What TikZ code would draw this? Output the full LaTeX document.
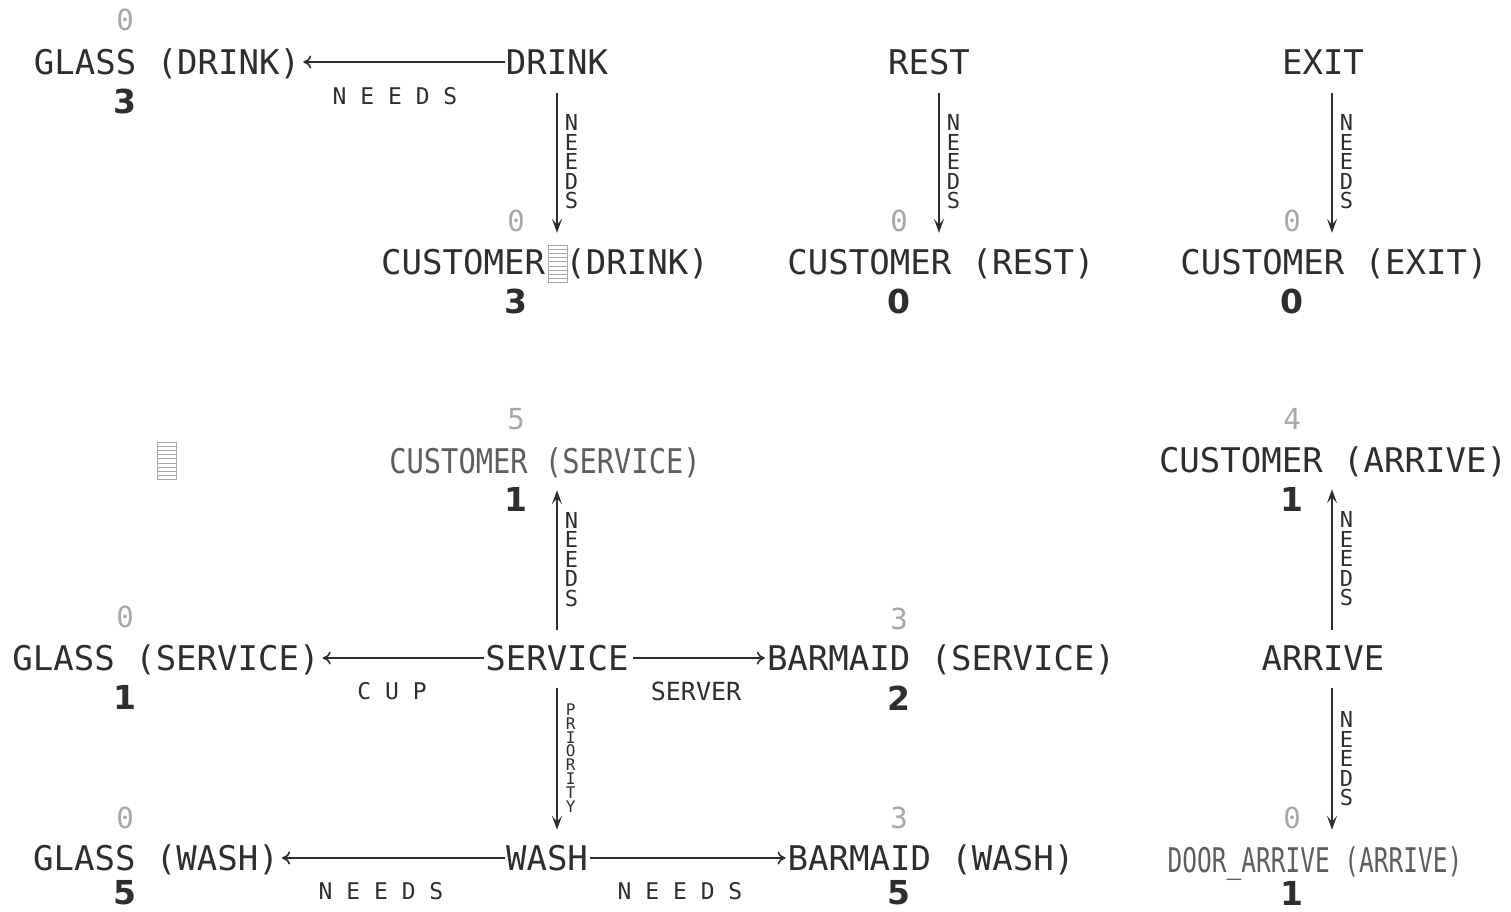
\documentclass[tikz,border=0pt]{standalone}
\usepackage{fontspec}
\setmainfont{DejaVu Sans}
\newfontfamily\monof{DejaVu Sans Mono}
\usetikzlibrary{arrows.meta}
\definecolor{ink}{HTML}{2E2E2E}
\definecolor{faint}{HTML}{A8A8A8}
\definecolor{thinink}{HTML}{5E5E5E}
\newcommand{\narrowtext}[2]{\scalebox{#1}[1]{#2}}
\begin{document}
\begin{tikzpicture}[x=1pt,y=-1pt,
  nm/.style={font=\monof\fontsize{34}{34}\selectfont, text=ink, inner sep=0pt, text height=24pt, text depth=0pt, anchor=center},
  lightnm/.style={nm, text=thinink},
  topnum/.style={font=\monof\fontsize{29}{29}\selectfont, text=faint, inner sep=0pt},
  botnum/.style={font=\bfseries\fontsize{33}{33}\selectfont, text=ink, inner sep=0pt},
  hlab/.style={font=\monof\fontsize{23}{23}\selectfont, text=ink, inner sep=0pt},
  vlab/.style={font=\monof\fontsize{22}{19.5}\selectfont, text=ink, inner sep=0pt, align=center},
  plab/.style={font=\monof\fontsize{16}{13.8}\selectfont, text=ink, inner sep=0pt, align=center},
  harr/.style={draw=ink, line width=1.6pt, -{To[length=8pt,width=13pt]}, shorten >=3pt, shorten <=1pt},
  varr/.style={draw=ink, line width=1.6pt, -{Stealth[length=14pt,width=10pt,inset=6pt]}},
  cursorbox/.style={minimum width=19pt, minimum height=37pt, inner sep=0pt, draw=faint, line width=1pt,
    path picture={\foreach \i in {1,...,8}{\draw[faint, line width=1pt] ([yshift=-\i*4.1pt]path picture bounding box.north west) -- ([yshift=-\i*4.1pt]path picture bounding box.north east);}}}
]
\useasboundingbox[fill=white] (0,0) rectangle (1511,911);

% ---- row 1 ----
\node[nm] (glassd) at (167,62) {GLASS (DRINK)};
\node[nm] (drink) at (557,62) {DRINK};
\node[nm] (rest) at (929,62) {REST};
\node[nm] (exit) at (1323,62) {EXIT};
\node[topnum] (n_glassd_t) at (125,20) {0};
\node[botnum] (n_glassd_b) at (125,101) {3};
\node[hlab] (lab_dg) at (395,96) {N E E D S};

\node[nm] (custd) at (545,262) {CUSTOMER\phantom{ }(DRINK)};
\node[cursorbox] (cur1) at (558,264) {};
\node[nm] (custr) at (941,262) {CUSTOMER (REST)};
\node[nm] (custe) at (1334,262) {CUSTOMER (EXIT)};
\node[topnum] (n_custd_t) at (516,221) {0};
\node[botnum] (n_custd_b) at (516,301) {3};
\node[topnum] (n_custr_t) at (899,221) {0};
\node[botnum] (n_custr_b) at (899,301) {0};
\node[topnum] (n_custe_t) at (1292,221) {0};
\node[botnum] (n_custe_b) at (1292,301) {0};

\draw[harr] (drink.west) -- (glassd.east);
\draw[varr, shorten <=19pt, shorten >=17pt] (drink.south) -- node[vlab, right=7pt] {N\\E\\E\\D\\S} (drink.south |- custd.north);
\draw[varr, shorten <=19pt, shorten >=17pt] ([xshift=10pt]rest.south) -- node[vlab, right=7pt] {N\\E\\E\\D\\S} ([xshift=10pt]rest.south |- custr.north);
\draw[varr, shorten <=19pt, shorten >=17pt] ([xshift=9pt]exit.south) -- node[vlab, right=7pt] {N\\E\\E\\D\\S} ([xshift=9pt]exit.south |- custe.north);

% ---- row 2 ----
\node[lightnm] (custs) at (545,461) {\narrowtext{0.845}{CUSTOMER (SERVICE)}};
\node[topnum] (n_custs_t) at (516,419) {5};
\node[botnum] (n_custs_b) at (516,499) {1};
\node[cursorbox] (cur2) at (167,461) {};
\node[nm] (custa) at (1333,460) {CUSTOMER (ARRIVE)};
\node[topnum] (n_custa_t) at (1292,419) {4};
\node[botnum] (n_custa_b) at (1292,499) {1};

% ---- row 3 ----
\node[nm] (glasss) at (166,658) {GLASS (SERVICE)};
\node[nm] (service) at (557,658) {SERVICE};
\node[nm] (barms) at (941,658) {BARMAID (SERVICE)};
\node[nm] (arrive) at (1323,658) {ARRIVE};
\node[topnum] (n_glasss_t) at (125,617) {0};
\node[botnum] (n_glasss_b) at (125,697) {1};
\node[topnum] (n_barms_t) at (899,619) {3};
\node[botnum] (n_barms_b) at (899,698) {2};
\node[hlab] (lab_cup) at (392,691) {C U P};
\node[font=\monof\fontsize{25}{25}\selectfont, text=ink, inner sep=0pt] (lab_server) at (696,691) {SERVER};

\draw[harr] (service.west) -- (glasss.east);
\draw[harr, shorten >=2pt, shorten <=4pt] (service.east) -- (barms.west);
\draw[varr, shorten <=16pt, shorten >=17pt] (service.north) -- node[vlab, right=7pt] {N\\E\\E\\D\\S} (service.north |- custs.south);
\draw[varr, shorten <=16pt, shorten >=17pt] ([xshift=9pt]arrive.north) -- node[vlab, right=7pt] {N\\E\\E\\D\\S} ([xshift=9pt]arrive.north |- custa.south);

% ---- row 4 ----
\node[nm] (glassw) at (156,858) {GLASS (WASH)};
\node[nm] (wash) at (547,858) {WASH};
\node[nm] (barmw) at (931,858) {BARMAID (WASH)};
\node[lightnm] (door) at (1315,860) {\narrowtext{0.72}{DOOR\_ARRIVE (ARRIVE)}};
\node[topnum] (n_glassw_t) at (125,818) {0};
\node[botnum] (n_glassw_b) at (125,893) {5};
\node[topnum] (n_barmw_t) at (899,818) {3};
\node[botnum] (n_barmw_b) at (899,893) {5};
\node[topnum] (n_door_t) at (1292,818) {0};
\node[botnum] (n_door_b) at (1292,893) {1};
\node[hlab] (lab_wg) at (381,891) {N E E D S};
\node[hlab] (lab_wb) at (680,891) {N E E D S};

\draw[varr, shorten <=18pt, shorten >=16pt] (service.south) -- node[plab, right=8pt] {P\\R\\I\\O\\R\\I\\T\\Y} (service.south |- wash.north);
\draw[varr, shorten <=18pt, shorten >=18pt] ([xshift=9pt]arrive.south) -- node[vlab, right=7pt] {N\\E\\E\\D\\S} ([xshift=9pt]arrive.south |- door.north);
\draw[harr] (wash.west) -- (glassw.east);
\draw[harr, shorten >=2pt, shorten <=2pt] (wash.east) -- (barmw.west);
\end{tikzpicture}
\end{document}
